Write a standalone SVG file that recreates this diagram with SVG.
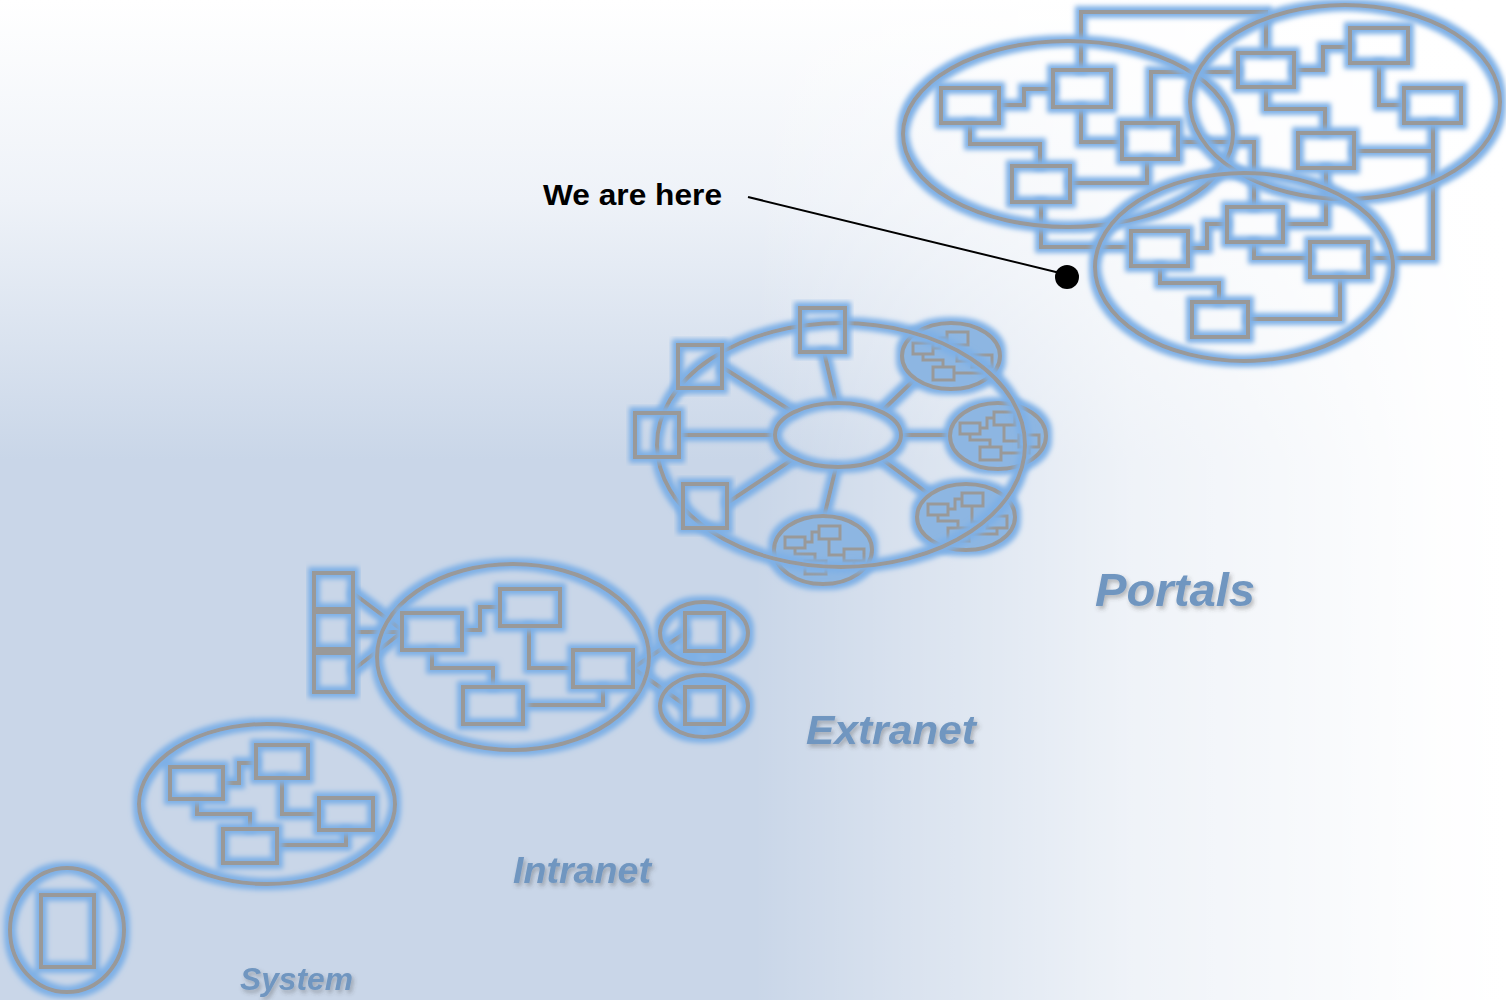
<svg xmlns="http://www.w3.org/2000/svg" xmlns:xlink="http://www.w3.org/1999/xlink" width="1506" height="1000" viewBox="0 0 1506 1000">
<defs>
<linearGradient id="bgv" x1="0" y1="0" x2="0" y2="1">
<stop offset="0" stop-color="#ffffff"/>
<stop offset="0.2" stop-color="#eef2f8"/>
<stop offset="0.46" stop-color="#c9d6e8"/>
<stop offset="1" stop-color="#c9d6e8"/>
</linearGradient>
<linearGradient id="bgh" x1="0" y1="0" x2="1" y2="0">
<stop offset="0" stop-color="#ffffff" stop-opacity="0"/>
<stop offset="0.5" stop-color="#ffffff" stop-opacity="0"/>
<stop offset="0.62" stop-color="#ffffff" stop-opacity="0.35"/>
<stop offset="0.75" stop-color="#ffffff" stop-opacity="0.7"/>
<stop offset="0.95" stop-color="#ffffff" stop-opacity="0.97"/>
<stop offset="1" stop-color="#ffffff" stop-opacity="1"/>
</linearGradient>
<filter id="glow" x="-20%" y="-20%" width="140%" height="140%">
<feMorphology in="SourceAlpha" operator="dilate" radius="4" result="d"/>
<feGaussianBlur in="d" stdDeviation="2.5" result="b"/>
<feFlood flood-color="#7eb0e6" flood-opacity="1"/>
<feComposite in2="b" operator="in" result="g"/>
<feMerge><feMergeNode in="g"/><feMergeNode in="SourceGraphic"/></feMerge>
</filter>
<filter id="shadow" x="-10%" y="-30%" width="130%" height="170%">
<feDropShadow dx="2" dy="3" stdDeviation="2" flood-color="#404040" flood-opacity="0.35"/>
</filter>
<g id="mini">
<path class="m" d="M-18,-8 H-11 V-18 H-4 M-28,-2 V4 H-8 V11 M6,-11 V5 H21 M31,11 V17 H3"/>
<rect class="m" x="-38" y="-13" width="20" height="11"/>
<rect class="m" x="-4" y="-24" width="21" height="13"/>
<rect class="m" x="21" y="-1" width="20" height="12"/>
<rect class="m" x="-18" y="11" width="21" height="13"/>
</g>
</defs>
<style>
.s{fill:none;stroke:#999999;stroke-width:4}
.m{fill:none;stroke:#999999;stroke-width:3}
.gl{filter:url(#glow)}
.sub{fill:#8db6e2}
.lbl{font-family:"Liberation Sans",Arial,sans-serif;font-weight:bold;font-style:italic;fill:#7096c0;filter:url(#shadow)}
</style>
<rect width="1506" height="1000" fill="url(#bgv)"/>
<rect width="1506" height="1000" fill="url(#bgh)"/>

<g id="connectors">
<g class="gl">
<path class="s" d="M999,105 H1024 V89 H1053 M970,123 V144 H1040 V166 M1081,107 V142 H1122 M1081,70 V12 H1266 V53 M1147,159 V183 H1070 M1151,123 V72 H1238 M1178,142 H1254 V207 M1041,202 V247 H1131 M1294,70 H1323 V47 H1350 M1266,87 V109 H1325 V133 M1379,63 V105 H1404 M1433,123 V258 H1368 M1354,151 H1433 M1326,168 V224 H1283 M1227,224 H1207 V248 H1188 M1254,242 V258 H1310 M1160,266 V283 H1219 V302 M1340,277 V319 H1248"/>
<path class="s" d="M836,403 L824,352 M793,412 L722,367 M775,435 H679 M793,459 L727,503 M836,467 L824,517 M883,460 L930,495 M902,435 H952 M883,410 L915,379"/>
<path class="s" d="M353,593 L402,630 M353,632 H402 M353,670 L402,632 M462,630 H480 V607 H500 M432,650 V668 H493 V687 M529,626 V668 H573 M603,687 V705 H523 M633,668 L685,633 M633,668 L685,705"/>
<path class="s" d="M223,783 H239 V763 H256 M197,799 V814 H250 V829 M282,778 V814 H319 M346,830 V845 H277"/>
</g>
</g>

<g id="portals-cluster-left" class="gl"><ellipse class="s" cx="1068" cy="134" rx="165" ry="93"/></g>
<g id="portals-cluster-right" class="gl"><ellipse class="s" cx="1345" cy="102" rx="155" ry="97"/></g>
<g id="portals-cluster-bottom" class="gl"><ellipse class="s" cx="1244" cy="267" rx="149" ry="94"/></g>
<g id="portals-boxes" class="gl">
<rect class="s" x="941" y="88" width="58" height="35"/>
<rect class="s" x="1053" y="70" width="58" height="37"/>
<rect class="s" x="1122" y="123" width="56" height="36"/>
<rect class="s" x="1012" y="166" width="58" height="36"/>
<rect class="s" x="1238" y="53" width="56" height="34"/>
<rect class="s" x="1350" y="28" width="58" height="35"/>
<rect class="s" x="1404" y="88" width="57" height="35"/>
<rect class="s" x="1298" y="133" width="56" height="35"/>
<rect class="s" x="1227" y="207" width="56" height="35"/>
<rect class="s" x="1131" y="231" width="57" height="35"/>
<rect class="s" x="1310" y="242" width="58" height="35"/>
<rect class="s" x="1192" y="302" width="56" height="35"/>
</g>

<g id="extranet-sub-ur" class="gl"><ellipse class="s sub" cx="951" cy="356" rx="49" ry="33"/><use xlink:href="#mini" x="951" y="356"/></g>
<g id="extranet-sub-r" class="gl"><ellipse class="s sub" cx="998" cy="436" rx="48" ry="33"/><use xlink:href="#mini" x="998" y="436"/></g>
<g id="extranet-sub-lr" class="gl"><ellipse class="s sub" cx="966" cy="517" rx="49" ry="33"/><use xlink:href="#mini" x="966" y="517"/></g>
<g id="extranet-sub-b" class="gl"><ellipse class="s sub" cx="823" cy="550" rx="49" ry="34"/><use xlink:href="#mini" x="823" y="550"/></g>
<g id="extranet-ring" class="gl"><ellipse class="s" cx="841" cy="445" rx="184" ry="122"/></g>
<g id="extranet-hub" class="gl"><ellipse class="s" cx="838" cy="435" rx="63" ry="32"/></g>
<g id="extranet-box-top" class="gl"><rect class="s" x="800" y="308" width="45" height="44"/></g>
<g id="extranet-box-ul" class="gl"><rect class="s" x="678" y="345" width="44" height="43"/></g>
<g id="extranet-box-l" class="gl"><rect class="s" x="635" y="413" width="44" height="44"/></g>
<g id="extranet-box-ll" class="gl"><rect class="s" x="683" y="484" width="44" height="44"/></g>

<g id="intranet-cluster" class="gl"><ellipse class="s" cx="513" cy="657" rx="136" ry="93"/></g>
<g id="intranet-stack" class="gl">
<rect class="s" x="314" y="573" width="39" height="36"/>
<rect class="s" x="314" y="612" width="39" height="37"/>
<rect class="s" x="314" y="653" width="39" height="39"/>
</g>
<g id="intranet-boxes" class="gl">
<rect class="s" x="402" y="613" width="60" height="37"/>
<rect class="s" x="500" y="589" width="60" height="37"/>
<rect class="s" x="573" y="650" width="60" height="37"/>
<rect class="s" x="463" y="687" width="60" height="37"/>
</g>
<g id="intranet-ext-top" class="gl"><ellipse class="s" cx="704" cy="633" rx="44" ry="31"/><rect class="s" x="685" y="613" width="39" height="38"/></g>
<g id="intranet-ext-bottom" class="gl"><ellipse class="s" cx="704" cy="706" rx="44" ry="31"/><rect class="s" x="685" y="687" width="39" height="37"/></g>

<g id="system-cluster" class="gl">
<ellipse class="s" cx="267" cy="804" rx="128" ry="80"/>
<rect class="s" x="170" y="767" width="53" height="32"/>
<rect class="s" x="256" y="745" width="52" height="33"/>
<rect class="s" x="319" y="798" width="54" height="32"/>
<rect class="s" x="223" y="829" width="54" height="34"/>
</g>
<g id="system-single" class="gl">
<ellipse class="s" cx="67" cy="930" rx="57" ry="62"/>
<rect class="s" x="41" y="895" width="53" height="72"/>
</g>

<g id="pointer">
<line x1="748" y1="197" x2="1060" y2="273" stroke="#000" stroke-width="2"/>
<circle cx="1067" cy="277" r="12" fill="#000"/>
<text x="543" y="205" font-family="'Liberation Sans',Arial,sans-serif" font-weight="bold" font-size="30" fill="#000" textLength="179" lengthAdjust="spacingAndGlyphs">We are here</text>
</g>

<text class="lbl" x="1095" y="606" font-size="46" textLength="160" lengthAdjust="spacingAndGlyphs">Portals</text>
<text class="lbl" x="806" y="744" font-size="41" textLength="170" lengthAdjust="spacingAndGlyphs">Extranet</text>
<text class="lbl" x="513" y="883" font-size="37" textLength="138" lengthAdjust="spacingAndGlyphs">Intranet</text>
<text class="lbl" x="240" y="990" font-size="32" textLength="113" lengthAdjust="spacingAndGlyphs">System</text>
</svg>
